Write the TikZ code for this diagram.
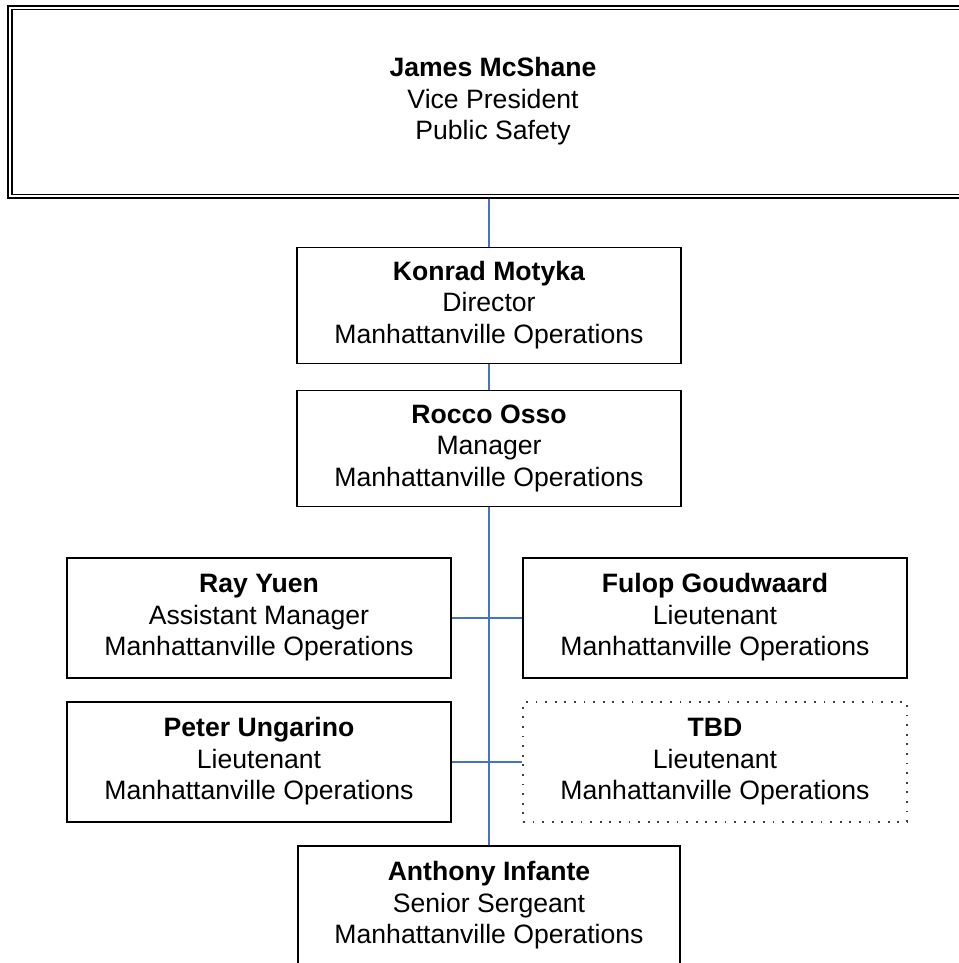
\documentclass[tikz,border=0pt]{standalone}
\usepackage{fontspec}
\setmainfont{Liberation Sans}
\usetikzlibrary{backgrounds}
\definecolor{connblue}{HTML}{4472C4}
\newcommand{\orgtext}[3]{\raisebox{-2.2pt}{\begin{tabular}{@{}c@{}}\textbf{#1}\\#2\\#3\end{tabular}}}
\begin{document}
\begin{tikzpicture}[x=1pt,y=-1pt,
  every node/.style={font=\fontsize{26.6}{31.6}\selectfont, inner sep=0pt},
  orgbox/.style={draw=black, line width=1.7pt, minimum width=384pt, minimum height=116pt},
  tbdbox/.style={draw=black!75, line width=1.8pt, dash pattern=on 1.8pt off 7.8pt, minimum width=384pt, minimum height=120pt},
  conn/.style={draw=connblue, line width=1.6pt},
  trunk/.style={draw=connblue, line width=2.2pt}
]
\useasboundingbox (0,0) rectangle (958,963);
\node[draw=black, line width=2pt, minimum width=970pt, minimum height=192pt] (vp) at (493,102) {\orgtext{James McShane}{Vice President}{Public Safety}};
\draw[line width=1.5pt] ([shift={(4.8,4.6)}]vp.north west) rectangle ([shift={(-4.8,-4.6)}]vp.south east);
\node[orgbox] (konrad) at (489,305.5) {\orgtext{Konrad Motyka}{Director}{Manhattanville Operations}};
\node[orgbox] (rocco) at (489,448.5) {\orgtext{Rocco Osso}{Manager}{Manhattanville Operations}};
\node[orgbox, minimum height=120pt] (ray) at (259,618) {\orgtext{Ray Yuen}{Assistant Manager}{Manhattanville Operations}};
\node[orgbox, minimum height=120pt] (fulop) at (715,618) {\orgtext{Fulop Goudwaard}{Lieutenant}{Manhattanville Operations}};
\node[orgbox, minimum height=120pt] (peter) at (259,762) {\orgtext{Peter Ungarino}{Lieutenant}{Manhattanville Operations}};
\node[tbdbox] (tbd) at (715,762) {\orgtext{TBD}{Lieutenant}{Manhattanville Operations}};
\node[orgbox, minimum width=382pt, minimum height=120pt] (anthony) at (489,906) {\orgtext{Anthony Infante}{Senior Sergeant}{Manhattanville Operations}};
\coordinate (split) at (rocco.south |- peter.east);
\begin{pgfonlayer}{background}
\draw[conn] (konrad.north |- vp.south) -- (konrad.north);
\draw[conn] (konrad.south) -- (rocco.north);
\draw[trunk] (rocco.south) -- (split);
\draw[conn] (split) -- (anthony.north);
\draw[conn] (ray.east) -- (fulop.west);
\draw[conn] (peter.east) -- (tbd.west);
\end{pgfonlayer}
\end{tikzpicture}
\end{document}
